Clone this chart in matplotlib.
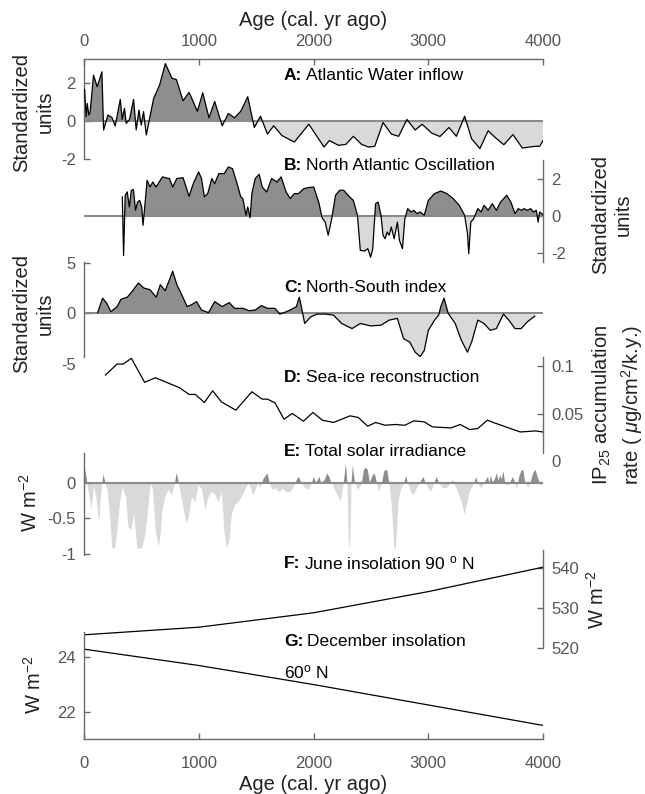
import matplotlib
matplotlib.use("Agg")
import matplotlib.pyplot as plt
import numpy as np

plt.rcParams['font.family'] = ['Liberation Sans', 'DejaVu Sans']
plt.rcParams['mathtext.fontset'] = 'custom'
plt.rcParams['mathtext.rm'] = 'Liberation Sans'
plt.rcParams['mathtext.it'] = 'Liberation Sans:italic'
plt.rcParams['mathtext.bf'] = 'Liberation Sans:bold'
plt.rcParams['axes.unicode_minus'] = False

# ---------------- data ----------------
age_ticks = [0, 1000, 2000, 3000, 4000]

a_age = [5, 19, 28, 42, 54, 83, 115, 156, 171, 208, 243, 272, 316, 333, 353, 368, 397, 432, 455, 479,
         499, 519, 543, 572, 607, 659, 709, 767, 805, 863, 916, 988, 1035, 1089, 1139, 1204, 1258, 1312,
         1366, 1427, 1484, 1538, 1599, 1653, 1725, 1833, 1959, 2092, 2138, 2218, 2282, 2347, 2419, 2480,
         2534, 2606, 2678, 2742, 2814, 2886, 2947, 3030, 3102, 3181, 3245, 3317, 3378, 3450, 3522, 3587,
         3659, 3738, 3820, 3935, 3971, 4000]
a_val = [1.65, 0.23, 0.92, 0.31, 0.49, 2.4, 1.79, 2.57, -0.47, 0.31, 0.19, -0.26, 1.13, 0.09, 0.66, -0.12,
         0.09, 1.13, -0.47, 0.57, -0.21, 0.49, -0.73, 0.14, 1.18, 1.88, 3.0, 2.23, 2.17, 1.06, 1.5, 0.51,
         1.47, 0.17, 1.02, -0.25, 0.39, 0.17, 0.51, 1.27, -0.34, 0.25, -0.68, -0.25, -0.76, -1.1, -0.17,
         -1.36, -1.02, -1.27, -1.22, -0.8, -1.22, -1.36, -1.32, -0.08, -0.68, -0.8, 0.08, -0.47, -0.17,
         -0.63, -0.81, -0.34, -0.8, 0.25, -0.93, -1.44, -0.51, -0.88, -1.24, -0.71, -1.41, -1.32, -1.32, -1.02]

b_age = [334, 345, 359, 377, 395, 413, 431, 449, 467, 485, 503, 514, 528, 550, 575, 600, 629, 683, 744, 773,
         809, 863, 916, 952, 999, 1024, 1049, 1078, 1114, 1139, 1175, 1222, 1258, 1294, 1330, 1366, 1384,
         1412, 1427, 1448, 1463, 1492, 1527, 1553, 1592, 1635, 1682, 1718, 1761, 1797, 1833, 1869, 1916,
         1959, 2002, 2049, 2074, 2102, 2128, 2156, 2192, 2228, 2264, 2300, 2347, 2383, 2408, 2444, 2473,
         2498, 2516, 2541, 2563, 2588, 2606, 2624, 2642, 2660, 2678, 2703, 2731, 2749, 2775, 2796, 2821,
         2850, 2875, 2900, 2929, 2965, 3001, 3055, 3109, 3163, 3217, 3270, 3317, 3342, 3353, 3371, 3396,
         3432, 3461, 3486, 3522, 3558, 3594, 3630, 3684, 3720, 3756, 3784, 3810, 3835, 3864, 3892, 3917,
         3942, 3957, 3971, 3989, 4000]
b_val = [1.04, -2.15, 1.13, 1.31, 0.49, 1.4, 1.44, 0.31, 0.76, 0.85, 0.49, -0.51, 0.4, 1.95, 1.58, 1.85,
         1.58, 2.13, 2.04, 1.58, 2.04, 2.09, 1.07, 1.76, 2.4, 2.04, 1.04, 1.22, 2.04, 1.76, 2.31, 2.31,
         2.67, 2.58, 1.85, 1.04, 0.95, 0.04, 0.49, -0.09, 1.22, 2.04, 2.27, 1.58, 1.31, 2.04, 1.85, 2.13,
         1.31, 0.95, 1.22, 1.22, 1.49, 1.55, 1.58, 0.67, -0.09, -0.33, -1.05, -0.24, 1.13, 1.4, 1.4, 1.13,
         0.85, 0.04, -1.87, -1.91, -1.78, -2.24, -1.78, 0.67, 0.76, 0.04, -1.05, -1.24, -0.87, -1.05,
         -0.6, -1.24, -0.33, -1.33, -1.78, -0.15, 0.4, 0.22, 0.31, 0.13, 0.22, 0.04, 0.85, 1.22, 1.36,
         1.22, 0.95, 0.58, 0.04, -0.96, -2.05, -0.33, -0.15, 0.4, 0.22, 0.58, 0.31, 0.67, 0.31, 0.76,
         1.13, 0.76, 0.13, 0.4, 0.31, 0.4, 0.31, 0.4, 0.22, 0.31, -0.33, 0.22, 0.13, 0.04]

c_age = [119, 162, 198, 234, 288, 323, 377, 420, 474, 521, 575, 629, 665, 708, 773, 809, 845, 899, 934,
         981, 1024, 1085, 1139, 1204, 1265, 1312, 1384, 1438, 1492, 1546, 1599, 1664, 1707, 1743, 1797,
         1851, 1876, 1894, 1923, 1977, 2031, 2102, 2174, 2246, 2336, 2408, 2498, 2588, 2660, 2731, 2785,
         2839, 2886, 2929, 2965, 3001, 3055, 3091, 3109, 3138, 3174, 3235, 3289, 3342, 3378, 3432, 3486,
         3540, 3594, 3655, 3702, 3756, 3810, 3864, 3928]
c_val = [0.0, 1.45, 0.95, 0.1, 0.6, 1.35, 1.55, 2.13, 2.97, 2.47, 2.3, 1.55, 2.8, 2.2, 4.15, 2.8, 1.96,
         0.61, 0.78, 1.11, 0.27, 0.0, 1.11, 0.61, 1.01, 0.44, 0.44, 0.2, 0.27, 0.71, 0.44, 0.44, -0.14,
         0.0, 0.27, 0.61, 1.55, 0.61, -1.08, -0.41, -0.14, -0.14, -0.24, -1.08, -1.59, -1.08, -1.32,
         -1.25, -0.74, -0.57, -2.6, -2.94, -3.95, -4.4, -3.78, -1.76, -0.74, -0.24, 0.61, 1.45, -0.07,
         -1.08, -2.77, -3.95, -2.94, -0.74, -1.08, -1.76, -1.59, -0.14, -0.74, -1.59, -1.59, -0.91, -0.34]

d_age = [187, 288, 341, 413, 528, 622, 719, 834, 916, 970, 1049, 1121, 1197, 1323, 1463, 1553, 1599,
         1664, 1743, 1815, 1912, 1995, 2077, 2174, 2318, 2390, 2473, 2541, 2624, 2713, 2796, 2875, 2965,
         3037, 3199, 3278, 3361, 3432, 3515, 3576, 3802, 3935, 4000]
d_val = [0.0906, 0.102, 0.102, 0.108, 0.083, 0.0878, 0.083, 0.0773, 0.0704, 0.0704, 0.062, 0.0742,
         0.0627, 0.054, 0.0732, 0.0655, 0.0655, 0.0617, 0.0446, 0.0506, 0.0425, 0.0516, 0.0436, 0.0412,
         0.0481, 0.0464, 0.0373, 0.0412, 0.0383, 0.0391, 0.0383, 0.0429, 0.0418, 0.0366, 0.0355, 0.0391,
         0.0338, 0.0349, 0.0436, 0.0408, 0.0313, 0.0324, 0.0313]

e_age = [0, 17, 29, 46, 67, 87, 110, 131, 148, 169, 186, 204, 227, 247, 271, 291, 314, 337, 367, 387,
         416, 436, 465, 503, 532, 555, 582, 599, 625, 649, 663, 684, 707, 736, 765, 786, 809, 826, 844,
         867, 891, 914, 940, 969, 998, 1027, 1057, 1086, 1115, 1144, 1173, 1202, 1222, 1246, 1269, 1289,
         1318, 1347, 1376, 1405, 1434, 1456, 1474, 1499, 1520, 1535, 1563, 1581, 1599, 1617, 1642, 1671,
         1700, 1736, 1761, 1797, 1822, 1844, 1858, 1872, 1894, 1923, 1959, 1987, 2002, 2023, 2038, 2052,
         2067, 2095, 2120, 2138, 2156, 2182, 2210, 2239, 2264, 2282, 2296, 2307, 2314, 2322, 2332, 2343,
         2361, 2390, 2419, 2440, 2455, 2473, 2491, 2516, 2534, 2552, 2570, 2598, 2616, 2642, 2660, 2678,
         2696, 2706, 2717, 2728, 2742, 2767, 2793, 2807, 2821, 2850, 2875, 2900, 2929, 2958, 2976, 3001,
         3030, 3055, 3073, 3094, 3127, 3163, 3199, 3217, 3245, 3270, 3296, 3317, 3339, 3360, 3389, 3403,
         3418, 3432, 3461, 3490, 3519, 3533, 3547, 3562, 3580, 3598, 3612, 3626, 3641, 3655, 3670, 3691,
         3713, 3738, 3756, 3774, 3792, 3810, 3828, 3846, 3871, 3892, 3914, 3935, 3953, 3971, 3986, 4000]
e_val = [0.24, 0.13, 0.0, -0.2, -0.36, -0.06, -0.23, -0.57, -0.2, 0.12, 0.0, -0.08, -0.48, -0.92, -0.92,
         -0.66, -0.29, -0.06, -0.2, -0.62, -0.66, -0.43, -0.92, -0.92, -0.76, -0.43, -0.01, -0.08, -0.66,
         -0.89, -0.8, -0.38, -0.2, -0.1, -0.17, -0.06, 0.14, 0.0, -0.15, -0.34, -0.57, -0.48, -0.2, -0.27,
         -0.04, -0.08, -0.38, -0.2, -0.13, -0.17, -0.27, -0.13, -0.66, -0.92, -0.8, -0.43, -0.31, -0.27,
         -0.2, -0.1, -0.01, -0.08, -0.18, -0.08, 0.0, -0.08, 0.05, 0.09, 0.13, 0.0, -0.1, -0.08, -0.13,
         -0.09, -0.13, -0.13, -0.08, 0.0, 0.05, 0.08, 0.0, -0.07, -0.1, 0.0, 0.08, 0.0, 0.04, 0.08, 0.0,
         0.03, 0.13, 0.08, 0.0, -0.08, -0.18, -0.26, 0.0, 0.26, 0.0, -0.8, -0.92, -0.8, 0.0, 0.24, 0.0,
         -0.1, -0.03, 0.18, 0.21, 0.18, 0.0, 0.1, 0.13, 0.0, -0.13, 0.0, 0.16, 0.18, 0.0, -0.24, -0.66,
         -0.92, -0.92, -0.66, -0.24, -0.08, 0.0, 0.1, 0.0, -0.13, -0.18, -0.08, 0.0, 0.08, 0.0, -0.08,
         -0.12, 0.0, 0.08, 0.0, -0.08, -0.07, 0.0, 0.03, -0.08, -0.18, -0.29, -0.45, -0.29, -0.13, -0.05,
         0.0, 0.08, 0.0, -0.08, 0.0, 0.08, 0.0, 0.1, 0.0, 0.05, 0.13, 0.03, 0.1, 0.05, 0.16, 0.0, -0.05,
         0.0, 0.08, 0.0, -0.1, 0.08, 0.16, 0.18, 0.0, -0.08, 0.0, 0.13, 0.18, 0.08, 0.0, -0.05, 0.03]

f_age = [0, 1000, 2000, 3000, 4000]
f_val = [523.3, 525.2, 528.8, 534.1, 540.2]
g_age = [0, 1000, 2000, 3000, 4000]
g_val = [24.3, 23.7, 23.0, 22.25, 21.5]

panel_letters = ['A:', 'B:', 'C:', 'D:', 'E:', 'F:', 'G:']
panel_names = ['Atlantic Water inflow', 'North Atlantic Oscillation', 'North-South index',
               'Sea-ice reconstruction', 'Total solar irradiance',
               r'June insolation 90 $^{\mathrm{o}}$ N', 'December insolation']

# ---------------- style ----------------
W, H = 645, 794
DARK = '#8e8e8e'
LIGHT = '#d9d9d9'
ZERO = '#8a8a8a'
SPINE = '#6a6a6a'
TCOL = '#555555'
TICK_FS = 12
LAB_FS = 14.5
TIT_FS = 12.5
X0, X1 = 84, 543

fig = plt.figure(figsize=(W / 100, H / 100), dpi=100)


def make_ax(top, bottom, side):
    ax = fig.add_axes([X0 / W, 1 - bottom / H, (X1 - X0) / W, (bottom - top) / H])
    ax.patch.set_alpha(0)
    for s in ['left', 'right', 'top', 'bottom']:
        ax.spines[s].set_visible(False)
        ax.spines[s].set_color(SPINE)
        ax.spines[s].set_linewidth(1.0)
    ax.spines[side].set_visible(True)
    ax.set_xlim(0, 4000)
    ax.set_xticks([])
    if side == 'right':
        ax.yaxis.tick_right()
    ax.tick_params(axis='y', direction='in', length=4, width=1, color=SPINE,
                   labelcolor=TCOL, labelsize=TICK_FS, pad=6)
    return ax


def fill_panel(ax, x, y, line=True):
    x = np.asarray(x, float)
    y = np.asarray(y, float)
    ax.fill_between(x, y, 0, where=y >= 0, interpolate=True, color=DARK, lw=0, zorder=1)
    ax.fill_between(x, y, 0, where=y <= 0, interpolate=True, color=LIGHT, lw=0, zorder=1)
    ax.axhline(0, color=ZERO, lw=1.5, zorder=2)
    if line:
        ax.plot(x, y, color='black', lw=0.9, zorder=3)


# A
axA = make_ax(59, 159.3, 'left')
axA.spines['top'].set_visible(True)
fill_panel(axA, a_age, a_val)
axA.set_ylim(-2, 3.24)
axA.set_yticks([-2, 0, 2])
axA.xaxis.tick_top()
axA.set_xticks(age_ticks)
axA.tick_params(axis='x', direction='in', length=4, width=1, color=SPINE,
                labelcolor=TCOL, labelsize=TICK_FS, pad=7)

# B
axB = make_ax(160, 261.7, 'right')
fill_panel(axB, b_age, b_val)
axB.set_ylim(-2.49, 3.05)
axB.set_yticks([-2, 0, 2])

# C
axC = make_ax(261.7, 356.7, 'left')
fill_panel(axC, c_age, c_val)
axC.set_ylim(-4.4, 5.1)
axC.set_yticks([0, 5])
axC.annotate('-5', xy=(0, -5.3), xycoords=('axes fraction', 'data'), xytext=(-6, 0),
             textcoords='offset points', ha='right', va='center', fontsize=TICK_FS,
             color=TCOL, annotation_clip=False)

# D
axD = make_ax(356.7, 453, 'right')
axD.plot(d_age, d_val, color='black', lw=0.9)
axD.set_ylim(0.0094, 0.1097)
axD.set_yticks([0.05, 0.1])
axD.set_yticklabels(['0.05', '0.1'])
axD.annotate('0', xy=(1, 0.0), xycoords=('axes fraction', 'data'), xytext=(6, 0),
             textcoords='offset points', ha='left', va='center', fontsize=TICK_FS,
             color=TCOL, annotation_clip=False)

# E
axE = make_ax(453.3, 555, 'left')
fill_panel(axE, e_age, e_val, line=False)
axE.set_ylim(-1.01, 0.41)
axE.set_yticks([-1, -0.5, 0])
axE.set_yticklabels(['-1', '-0.5', '0'])

# F
axF = make_ax(550, 648, 'right')
axF.plot(f_age, f_val, color='black', lw=0.9)
axF.set_ylim(520, 544.5)
axF.set_yticks([520, 530, 540])

# G
axG = make_ax(632, 739, 'left')
axG.spines['bottom'].set_visible(True)
axG.plot(g_age, g_val, color='black', lw=0.9)
axG.set_ylim(21.0, 24.93)
axG.set_yticks([22, 24])
axG.set_xticks(age_ticks)
axG.tick_params(axis='x', direction='in', length=4, width=1, color=SPINE,
                labelcolor=TCOL, labelsize=TICK_FS, pad=12)


def ftext(x, y, s, **kw):
    return fig.text(x / W, 1 - y / H, s, **kw)


# axis titles
ftext((X0 + X1) / 2, 21, 'Age (cal. yr ago)', ha='center', va='center', fontsize=LAB_FS, color='#222222')
ftext((X0 + X1) / 2, 784, 'Age (cal. yr ago)', ha='center', va='center', fontsize=LAB_FS, color='#222222')

rot = dict(rotation=90, ha='center', va='center', fontsize=LAB_FS, color='#222222',
           multialignment='center', linespacing=1.3)
ftext(33, 112, 'Standardized\nunits', **rot)
ftext(33, 314, 'Standardized\nunits', **rot)
ftext(612, 215, 'Standardized\nunits', **rot)
ftext(30, 503, r'W m$^{-2}$', **rot)
ftext(34, 685, r'W m$^{-2}$', **rot)
ftext(597, 600, r'W m$^{-2}$', **rot)
ftext(618, 405, 'IP$_{25}$ accumulation\n' + r'rate ( $\mu$g/cm$^{2}$/k.y.)', **rot)

# panel titles: bold letter, then normal text placed right after it
TX = 284
title_y = [75, 165, 287, 377, 452, 563, 642]
renderer = fig.canvas.get_renderer()
for letter, name, ty in zip(panel_letters, panel_names, title_y):
    t = ftext(TX, ty, letter, ha='left', va='center', fontsize=TIT_FS, fontweight='bold', color='black')
    bb = t.get_window_extent(renderer=renderer)
    ftext(bb.x1 + 4, ty, name, ha='left', va='center', fontsize=TIT_FS, color='black')
ftext(TX, 672, r'60$^{\mathrm{o}}$ N', ha='left', va='center', fontsize=TIT_FS, color='black')

fig.savefig('out.png', dpi=100)
